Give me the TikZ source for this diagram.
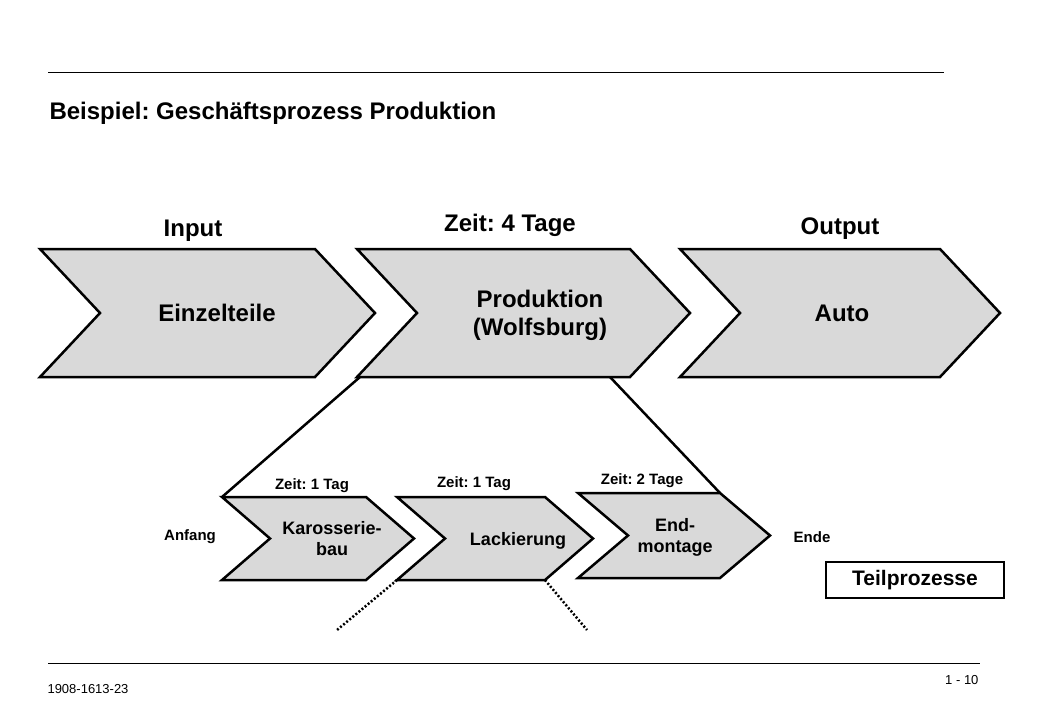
\documentclass[tikz,border=0pt]{standalone}
\usepackage{fontspec}
\setmainfont{Liberation Sans}
\usetikzlibrary{positioning, calc}
\frenchspacing

% chevron: #1 left x, #2 top y, #3 width, #4 height, #5 depth of tip
\newcommand{\chevron}[5]{%
  \draw[chev] (#1,#2) -- ++(#3,0) -- ++(#5,#4/2) -- ++(-#5,#4/2) -- ++(-#3,0) -- ++(#5,-#4/2) -- cycle;}

\begin{document}
\begin{tikzpicture}[
    x=1pt, y=-1pt,
    chev/.style={draw=black, line width=2.5pt, fill=gray!30, line join=miter},
    big/.style={font=\bfseries\fontsize{24}{28}\selectfont, align=center},
    small/.style={font=\bfseries\fontsize{18}{21}\selectfont, align=center},
    tiny/.style={font=\bfseries\fontsize{15}{18}\selectfont},
    funnel/.style={line width=2.5pt},
    dots/.style={line width=2.5pt, dash pattern=on 2pt off 2pt}
]
\useasboundingbox (0,0) rectangle (1040,720);

% rules and title
\draw[line width=1pt] (48,72) -- (944,72);
\draw[line width=1pt] (48,663) -- (980,663);
\node[big, anchor=west] (title) at (46,113) {Beispiel: Geschäftsprozess Produktion};
\node[font=\fontsize{13}{15}\selectfont, anchor=west] (docnr) at (44,689) {1908-1613-23};
\node[font=\fontsize{13}{15}\selectfont, anchor=east] (page) at (982,680) {1 - 10};

% main process
\chevron{40}{249}{275}{128}{60}
\chevron{357}{249}{273}{128}{60}
\chevron{680}{249}{260}{128}{60}
\node[big] (einzel) at (217,313) {Einzelteile};
\node[big] (prod) at (540,315) {Produktion\\(Wolfsburg)};
\node[big] (auto) at (842,313) {Auto};
\node[big] (input) at (193,231) {Input};
\node[big] (zeit) at (510,225) {Zeit: 4 Tage};
\node[big] (output) at (840,229) {Output};

% sub processes
\chevron{222}{497}{144}{83}{48}
\chevron{397}{497}{148}{83}{48}
\chevron{578}{493}{142}{85}{50}
\node[small] (karo) at (332,539) {Karosserie-\\bau};
\node[small] (lack) at (518,541) {Lackierung};
\node[small] (end) at (675,537) {End-\\montage};
\node[tiny] (z1) at (312,486) {Zeit: 1 Tag};
\node[tiny] (z2) at (474,484) {Zeit: 1 Tag};
\node[tiny] (z3) at (642,481) {Zeit: 2 Tage};
\node[tiny] (anfang) at (190,537) {Anfang};
\node[tiny] (ende) at (812,537) {Ende};
\node[font=\bfseries\fontsize{21}{24}\selectfont, draw, line width=2.5pt, minimum width=178pt, minimum height=36pt] (teil) at (915,580) {Teilprozesse};

% funnel and detail lines
\coordinate (pl) at (360,377);
\coordinate (pr) at (610,377);
\coordinate (kl) at (222,497);
\coordinate (er) at (720,493);
\draw[funnel] (pl) -- (kl);
\draw[funnel] (pr) -- (er);
\coordinate (ll) at (397,580);
\coordinate (lr) at (545,580);
\draw[dots] (ll) -- (337,630);
\draw[dots] (lr) -- (587,630);
\end{tikzpicture}
\end{document}
